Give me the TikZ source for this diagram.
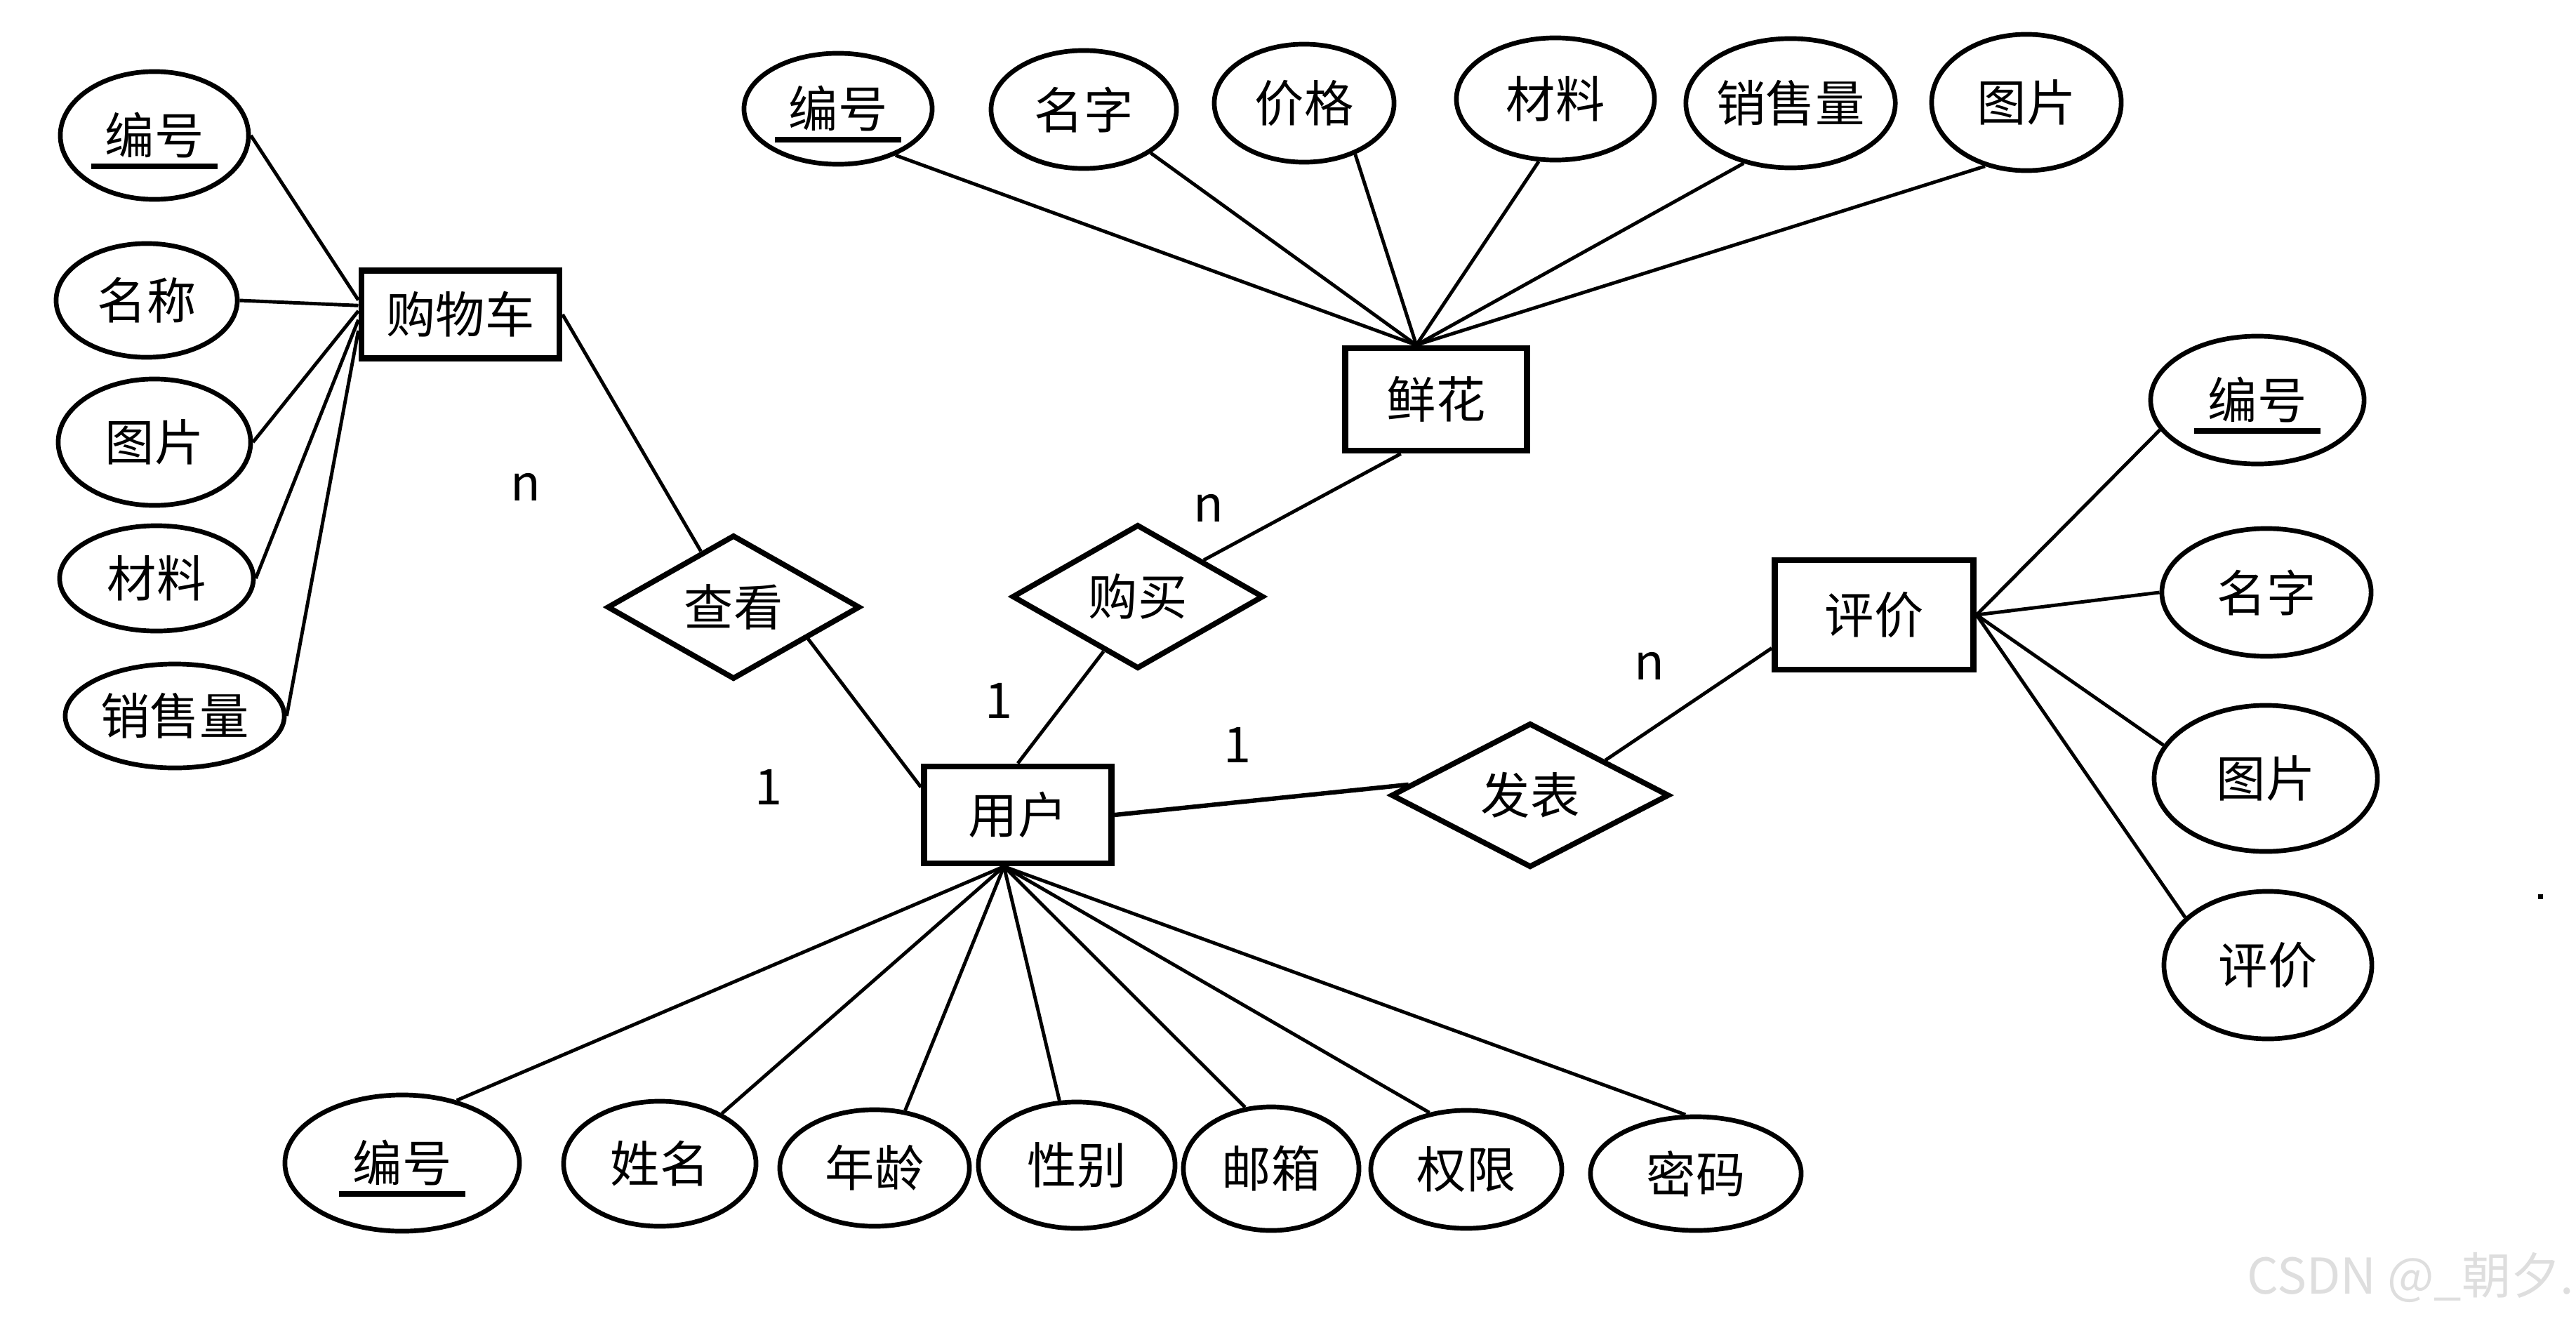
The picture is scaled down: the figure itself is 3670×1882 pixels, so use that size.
\documentclass[tikz,border=0pt]{standalone}
\usepackage{fontspec}
\setmainfont{Noto Sans CJK SC}
\usetikzlibrary{shapes.geometric}
\tikzstyle{attr} = [ellipse, draw, line width=1.9pt, inner sep=0pt, font=\fontsize{20}{24}\selectfont]
\tikzstyle{keyattr} = [attr, path picture={\draw[line width=2.2pt] ([xshift=-0.9cm,yshift=-0.44cm]path picture bounding box.center) -- ++(180,0);}]
\tikzstyle{entity} = [rectangle, draw, line width=2.5pt, inner sep=0pt, font=\fontsize{20}{24}\selectfont]
\tikzstyle{rel} = [diamond, draw, line width=2.2pt, inner sep=0pt, font=\fontsize{20}{24}\selectfont]
\tikzstyle{card} = [inner sep=0pt, font=\fontsize{20}{24}\selectfont]
\tikzstyle{link} = [line width=1.4pt]

\begin{document}
\begin{tikzpicture}[x=0.01cm, y=-0.01cm]
  \fill[white] (0,0) rectangle (3670,1882);
  \useasboundingbox (0,0) rectangle (3670,1882);

  % entities and relations
  \node[entity, minimum width=2.82cm, minimum height=1.25cm] (cart) at (656,448) {购物车};
  \node[entity, minimum width=2.59cm, minimum height=1.46cm] (flower) at (2046,569) {鲜花};
  \node[entity, minimum width=2.67cm, minimum height=1.38cm] (user) at (1450,1161) {用户};
  \node[entity, minimum width=2.83cm, minimum height=1.56cm] (review) at (2670,876) {评价};
  \node[rel, minimum width=3.60cm, minimum height=1.78cm] (see) at (1045,865) {查看};
  \node[rel, minimum width=3.58cm, minimum height=1.77cm] (buy) at (1621,850) {购买};
  \node[rel, minimum width=3.96cm, minimum height=2.00cm] (pub) at (2180,1133) {发表};

  % cart attributes
  \node[keyattr, minimum width=2.68cm, minimum height=1.82cm] (c1) at (220,193) {编号};
  \node[attr, minimum width=2.58cm, minimum height=1.62cm] (c2) at (209,428) {名称};
  \node[attr, minimum width=2.74cm, minimum height=1.80cm] (c3) at (220,630) {图片};
  \node[attr, minimum width=2.76cm, minimum height=1.50cm] (c4) at (223,824) {材料};
  \node[attr, minimum width=3.12cm, minimum height=1.48cm] (c5) at (249,1020) {销售量};

  % flower attributes
  \node[keyattr, minimum width=2.68cm, minimum height=1.58cm] (f1) at (1194,155) {编号};
  \node[attr, minimum width=2.64cm, minimum height=1.68cm] (f2) at (1544,156) {名字};
  \node[attr, minimum width=2.56cm, minimum height=1.68cm] (f3) at (1858,147) {价格};
  \node[attr, minimum width=2.82cm, minimum height=1.74cm] (f4) at (2216,141) {材料};
  \node[attr, minimum width=2.98cm, minimum height=1.84cm] (f5) at (2551,147) {销售量};
  \node[attr, minimum width=2.70cm, minimum height=1.94cm] (f6) at (2887,146) {图片};

  % review attributes
  \node[keyattr, minimum width=3.04cm, minimum height=1.82cm] (r1) at (3216,570) {编号};
  \node[attr, minimum width=2.98cm, minimum height=1.82cm] (r2) at (3229,844) {名字};
  \node[attr, minimum width=3.18cm, minimum height=2.08cm] (r3) at (3228,1109) {图片};
  \node[attr, minimum width=2.96cm, minimum height=2.10cm] (r4) at (3231,1375) {评价};

  % user attributes
  \node[keyattr, minimum width=3.34cm, minimum height=1.94cm] (u1) at (573,1657) {编号};
  \node[attr, minimum width=2.74cm, minimum height=1.78cm] (u2) at (940,1658) {姓名};
  \node[attr, minimum width=2.70cm, minimum height=1.66cm] (u3) at (1246,1664) {年龄};
  \node[attr, minimum width=2.80cm, minimum height=1.80cm] (u4) at (1534,1660) {性别};
  \node[attr, minimum width=2.50cm, minimum height=1.76cm] (u5) at (1811,1665) {邮箱};
  \node[attr, minimum width=2.72cm, minimum height=1.68cm] (u6) at (2089,1666) {权限};
  \node[attr, minimum width=3.00cm, minimum height=1.62cm] (u7) at (2416,1672) {密码};

  % cardinalities
  \node[card] (k1) at (749,694) {n};
  \node[card] (k2) at (1722,724) {n};
  \node[card] (k3) at (1423,998) {1};
  \node[card] (k4) at (1763,1061) {1};
  \node[card] (k5) at (2350,949) {n};
  \node[card] (k6) at (1095,1121) {1};

  % attribute links
  \draw[link] (c1.east) -- (cart.172);
  \draw[link] (c2.east) -- (cart.175);
  \draw[link] (c3.east) -- (cart.178);
  \draw[link] (c4.east) -- (cart.-177);
  \draw[link] (c5.east) -- (cart.-171);
  \draw[link] (f1.-39) -- (flower.110);
  \draw[link] (f2.-33) -- (flower.110);
  \draw[link] (f3.-45) -- (flower.110);
  \draw[link] (f4.-105) -- (flower.110);
  \draw[link] (f5.-128) -- (flower.110);
  \draw[link] (f6.-123) -- (flower.110);
  \draw[link] (r1.-163) -- (review.east);
  \draw[link] (r2.west) -- (review.east);
  \draw[link] (r3.162) -- (review.east);
  \draw[link] (r4.150) -- (review.east);
  \draw[link] (u1.49) -- (user.-105);
  \draw[link] (u2.39) -- (user.-105);
  \draw[link] (u3.62) -- (user.-105);
  \draw[link] (u4.105) -- (user.-105);
  \draw[link] (u5.113) -- (user.-105);
  \draw[link] (u6.123) -- (user.-105);
  \draw[link] (u7.100) -- (user.-105);

  % relation links
  \draw[link] (cart.east) -- (see);
  \draw[link] (see.-23) -- (user.164);
  \draw[link] (flower.-123) -- (buy.29);
  \draw[link] (buy.-122) -- (user.north);
  \draw[link, line width=1.8pt] (user.east) -- (pub.175);
  \draw[link] (pub.25) -- (review.-162);

  \fill (3616,1274) rectangle ++(7,7);
  \node[anchor=east, inner sep=0pt, text=black!13, font=\fontsize{20}{24}\selectfont] (mark) at (3668,1820) {CSDN @\_朝夕.};
\end{tikzpicture}
\end{document}
